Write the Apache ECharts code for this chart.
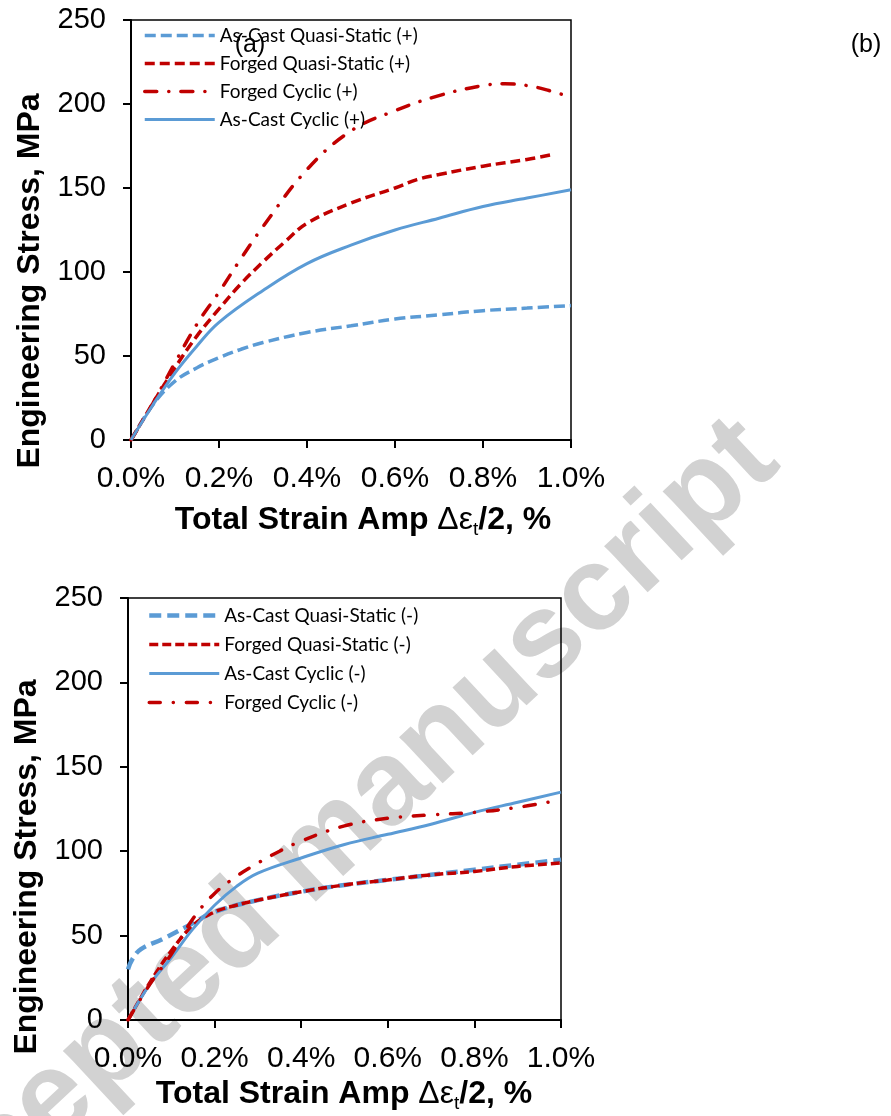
<!DOCTYPE html>
<html>
<head>
<meta charset="utf-8">
<script src="https://cdn.jsdelivr.net/npm/echarts@6/dist/echarts.min.js"></script>
<style>
  html, body { margin: 0; padding: 0; background: #fff; }
  #chart { width: 891px; height: 1116px; }
</style>
</head>
<body>
<div id="chart"></div>
<script>
// Strain ticks (percent) and stress ticks (MPa)
const strainTicks = [0, 0.2, 0.4, 0.6, 0.8, 1.0];
const stressTicks = [0, 50, 100, 150, 200, 250];

// (a) tension side (+)
const castQsPosStrain = [0, 0.05, 0.1, 0.15, 0.2, 0.25, 0.3, 0.4, 0.5, 0.6, 0.7, 0.8, 0.9, 1.0];
const castQsPosStress = [0, 21, 35, 43, 49, 54, 58, 64, 68, 72, 74.5, 77, 78.5, 80];

const forgedQsPosStrain = [0, 0.05, 0.1, 0.15, 0.2, 0.25, 0.3, 0.35, 0.4, 0.5, 0.6, 0.65, 0.7, 0.8, 0.9, 0.96];
const forgedQsPosStress = [0, 22, 43, 62, 78, 93, 106, 118, 129, 141, 150, 155, 158, 163, 167, 170];

const forgedCycPosStrain = [0, 0.05, 0.1, 0.15, 0.2, 0.25, 0.3, 0.4, 0.5, 0.6, 0.7, 0.8, 0.85, 0.9, 0.95, 1.0];
const forgedCycPosStress = [0, 22, 46, 69, 88, 108, 127, 161, 184, 196, 205, 211, 212, 211, 208, 204];

const castCycPosStrain = [0, 0.05, 0.1, 0.15, 0.2, 0.3, 0.4, 0.5, 0.6, 0.7, 0.8, 0.9, 1.0];
const castCycPosStress = [0, 21, 40, 56, 70, 89, 105, 116, 125, 132, 139, 144, 149];

// (b) compression side (-)
const castQsNegStrain = [0, 0.01, 0.03, 0.08, 0.14, 0.2, 0.3, 0.4, 0.5, 0.6, 0.7, 0.8, 0.9, 1.0];
const castQsNegStress = [30, 36, 42, 48, 56, 64, 71, 76, 80, 83, 86, 89, 92, 95];

const forgedQsNegStrain = [0, 0.05, 0.1, 0.15, 0.2, 0.25, 0.3, 0.4, 0.5, 0.6, 0.7, 0.8, 0.9, 1.0];
const forgedQsNegStress = [0, 22, 41, 56, 64, 68, 71, 76, 80, 83, 86, 88, 91, 93];

const castCycNegStrain = [0, 0.05, 0.1, 0.15, 0.2, 0.25, 0.3, 0.4, 0.5, 0.6, 0.7, 0.8, 0.9, 1.0];
const castCycNegStress = [0, 21, 37, 54, 68, 79, 87, 96, 104, 110, 116, 123, 129, 135];

const forgedCycNegStrain = [0, 0.05, 0.1, 0.15, 0.2, 0.25, 0.3, 0.35, 0.4, 0.5, 0.6, 0.7, 0.8, 0.9, 0.97];
const forgedCycNegStress = [0, 21, 39, 60, 75, 85, 93, 100, 106, 115, 119.5, 121.5, 123, 126, 129];

const BLUE = '#5B9BD5';
const RED = '#C00000';

// Line looks shared by each series and its legend entry
const styles = {
  castQsPos:   { color: BLUE, width: 3.5, type: [11, 5], cap: 'butt' },
  forgedQsPos: { color: RED,  width: 3.5, type: [10, 5], cap: 'butt' },
  forgedCycPos:{ color: RED,  width: 3.5, type: [12, 12, 0.1, 12], cap: 'round' },
  castCycPos:  { color: BLUE, width: 3,   type: 'solid', cap: 'butt' },
  castQsNeg:   { color: BLUE, width: 4.5, type: [12, 6], cap: 'butt' },
  forgedQsNeg: { color: RED,  width: 3.5, type: [9, 4], cap: 'butt' },
  castCycNeg:  { color: BLUE, width: 3,   type: 'solid', cap: 'butt' },
  forgedCycNeg:{ color: RED,  width: 3.5, type: [11, 13, 0.1, 13], cap: 'round' }
};

function pairs(xs, ys) {
  return xs.map((x, i) => [x, ys[i]]);
}

function lineSeries(name, idx, xs, ys, st) {
  return {
    name: name,
    type: 'line',
    xAxisIndex: idx,
    yAxisIndex: idx,
    data: pairs(xs, ys),
    smooth: 0.4,
    symbol: 'none',
    lineStyle: { color: st.color, width: st.width, type: st.type, cap: st.cap },
    itemStyle: { color: st.color },
    emphasis: { disabled: true },
    z: 3
  };
}

function legendItem(name, st) {
  return {
    name: name,
    itemStyle: { opacity: 0 },
    lineStyle: { color: st.color, width: st.width, type: st.type, cap: st.cap, opacity: 1 }
  };
}

const xTickFont = { fontFamily: '"Liberation Sans", Arial, sans-serif', fontSize: 30, color: '#000' };
const yTickFont = { fontFamily: '"Liberation Sans", Arial, sans-serif', fontSize: 29, color: '#000' };

function xAxis(idx) {
  return {
    type: 'value', gridIndex: idx,
    min: strainTicks[0], max: strainTicks[strainTicks.length - 1], interval: 0.2,
    axisLine: { lineStyle: { color: '#000', width: 2 } },
    axisTick: { inside: false, length: 8, lineStyle: { color: '#000', width: 2 } },
    splitLine: { show: false },
    axisLabel: Object.assign({ margin: 24, formatter: v => v.toFixed(1) + '%' }, xTickFont)
  };
}

function yAxis(idx) {
  return {
    type: 'value', gridIndex: idx,
    min: stressTicks[0], max: stressTicks[stressTicks.length - 1], interval: 50,
    axisLine: { show: true, lineStyle: { color: '#000', width: 2 } },
    axisTick: { show: true, inside: false, length: 8, lineStyle: { color: '#000', width: 2 } },
    splitLine: { show: false },
    axisLabel: Object.assign({ margin: 25 }, yTickFont)
  };
}

const legendFont = { fontFamily: 'Lato, "Open Sans", sans-serif', fontSize: 19, color: '#000' };

const titleRich = {
  b: { fontFamily: '"Liberation Sans", Arial, sans-serif', fontWeight: 'bold', fontSize: 32, lineHeight: 38, verticalAlign: 'middle', fill: '#000' },
  g: { fontFamily: '"Liberation Sans", Arial, sans-serif', fontSize: 32, lineHeight: 38, verticalAlign: 'middle', fill: '#000' },
  s: { fontFamily: '"Liberation Sans", Arial, sans-serif', fontSize: 19, lineHeight: 19, verticalAlign: 'bottom', fill: '#000' }
};

function xTitle(x, y) {
  return {
    type: 'text', x: x, y: y, z: 10,
    style: {
      text: '{b|Total Strain Amp }{g|Δε}{s|t}{b|/2, %}',
      rich: titleRich, align: 'center', verticalAlign: 'middle'
    }
  };
}

function yTitle(x, y) {
  return {
    type: 'text', x: x, y: y, rotation: Math.PI / 2, z: 10,
    style: {
      text: 'Engineering Stress, MPa',
      fontFamily: '"Liberation Sans", Arial, sans-serif', fontWeight: 'bold', fontSize: 32,
      fill: '#000', align: 'center', verticalAlign: 'middle'
    }
  };
}

const option = {
  animation: false,
  backgroundColor: '#fff',
  grid: [
    { left: 131, top: 20, width: 440, height: 420, show: true, borderColor: '#000', borderWidth: 1.5, backgroundColor: 'transparent' },
    { left: 128, top: 598, width: 433, height: 422, show: true, borderColor: '#000', borderWidth: 1.5, backgroundColor: 'transparent' }
  ],
  xAxis: [xAxis(0), xAxis(1)],
  yAxis: [yAxis(0), yAxis(1)],
  legend: [
    {
      orient: 'vertical', left: 138, top: 21, itemWidth: 70, itemHeight: 14, itemGap: 9,
      textStyle: legendFont, selectedMode: false,
      data: [
        legendItem('As-Cast Quasi-Static (+)', styles.castQsPos),
        legendItem('Forged Quasi-Static (+)', styles.forgedQsPos),
        legendItem('Forged Cyclic (+)', styles.forgedCycPos),
        legendItem('As-Cast Cyclic (+)', styles.castCycPos)
      ]
    },
    {
      orient: 'vertical', left: 142, top: 601, itemWidth: 70, itemHeight: 14, itemGap: 10,
      textStyle: legendFont, selectedMode: false,
      data: [
        legendItem('As-Cast Quasi-Static (-)', styles.castQsNeg),
        legendItem('Forged Quasi-Static (-)', styles.forgedQsNeg),
        legendItem('As-Cast Cyclic (-)', styles.castCycNeg),
        legendItem('Forged Cyclic (-)', styles.forgedCycNeg)
      ]
    }
  ],
  series: [
    lineSeries('As-Cast Quasi-Static (+)', 0, castQsPosStrain, castQsPosStress, styles.castQsPos),
    lineSeries('Forged Quasi-Static (+)', 0, forgedQsPosStrain, forgedQsPosStress, styles.forgedQsPos),
    lineSeries('Forged Cyclic (+)', 0, forgedCycPosStrain, forgedCycPosStress, styles.forgedCycPos),
    lineSeries('As-Cast Cyclic (+)', 0, castCycPosStrain, castCycPosStress, styles.castCycPos),
    lineSeries('As-Cast Quasi-Static (-)', 1, castQsNegStrain, castQsNegStress, styles.castQsNeg),
    lineSeries('Forged Quasi-Static (-)', 1, forgedQsNegStrain, forgedQsNegStress, styles.forgedQsNeg),
    lineSeries('As-Cast Cyclic (-)', 1, castCycNegStrain, castCycNegStress, styles.castCycNeg),
    lineSeries('Forged Cyclic (-)', 1, forgedCycNegStrain, forgedCycNegStress, styles.forgedCycNeg)
  ],
  graphic: [
    {
      type: 'text', x: 314, y: 858, rotation: 43 * Math.PI / 180, z: -10, silent: true,
      style: {
        text: 'Accepted manuscript',
        fontFamily: '"Liberation Sans", Arial, sans-serif', fontWeight: 'bold', fontSize: 120,
        fill: '#d2d2d2', align: 'center', verticalAlign: 'middle'
      }
    },
    xTitle(363, 520),
    xTitle(344, 1094),
    yTitle(30, 281),
    yTitle(27, 867),
    {
      type: 'text', x: 250, y: 45, z: 10,
      style: { text: '(a)', fontFamily: '"Liberation Sans", Arial, sans-serif', fontSize: 25, fill: '#000', align: 'center', verticalAlign: 'middle' }
    },
    {
      type: 'text', x: 866, y: 45, z: 10,
      style: { text: '(b)', fontFamily: '"Liberation Sans", Arial, sans-serif', fontSize: 25, fill: '#000', align: 'center', verticalAlign: 'middle' }
    }
  ]
};

const chart = echarts.init(document.getElementById('chart'), null, { renderer: 'canvas' });
chart.setOption(option);
</script>
</body>
</html>
